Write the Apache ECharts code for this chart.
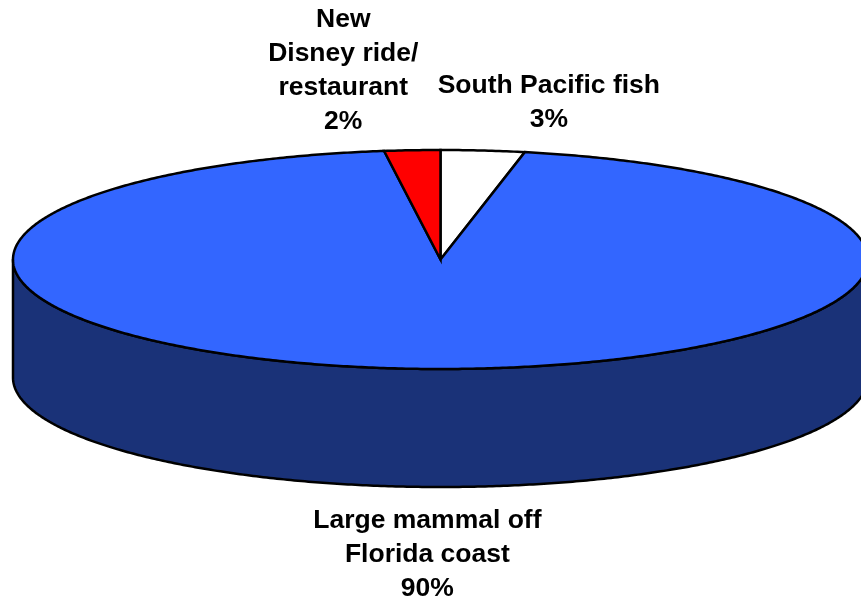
<!DOCTYPE html>
<html><head><meta charset="utf-8">
<script src="https://cdn.jsdelivr.net/npm/echarts/dist/echarts.min.js"></script>
<style>html,body{margin:0;padding:0;background:#fff}#c{width:861px;height:604px}</style>
</head><body><div id="c"></div>
<script>
// ---- data ----
const categories = ['South Pacific fish', 'Large mammal off\nFlorida coast', 'New\nDisney ride/\nrestaurant'];
const values = [3, 90, 2];
const valueLabels = ['3%', '90%', '2%'];

// ---- style / layout ----
const topColors = ['#ffffff', '#3366ff', '#ff0000'];
const sideColors = ['#c0c0c0', '#1a3278', '#800000'];
const layout = { cx: 440.5, cy: 259.5, rx: 427.5, ry: 109.5, depth: 118 };
// label offsets relative to slice mid-point on the rim (style only)
const labelOffsets = [[66, -48], [1, 68], [-69, -80]];
const font = 'bold 26.5px "Liberation Sans", Arial, sans-serif';

const DEG = Math.PI / 180;
function sliceAngles(i) {
  const total = values.reduce((a, b) => a + b, 0);
  let acc = 0;
  for (let k = 0; k < i; k++) acc += values[k];
  return [acc / total * 360, (acc + values[i]) / total * 360];
}
function pt(t, dy) {
  return [layout.cx + layout.rx * Math.sin(t * DEG), layout.cy - layout.ry * Math.cos(t * DEG) + (dy || 0)];
}
function arc(a, b, dy) {
  const pts = [];
  const n = Math.max(2, Math.ceil(Math.abs(b - a) / 0.5));
  for (let k = 0; k <= n; k++) pts.push(pt(a + (b - a) * k / n, dy));
  return pts;
}

function renderSide(params, api) {
  const i = params.dataIndex;
  const [t0, t1] = sliceAngles(i);
  const a = Math.max(t0, 90), b = Math.min(t1, 270);
  if (b <= a) return { type: 'group', children: [] };
  const pts = arc(a, b, 0).concat(arc(b, a, layout.depth));
  return {
    type: 'polygon',
    shape: { points: pts },
    style: { fill: sideColors[i], stroke: '#000', lineWidth: 2.5, lineJoin: 'round' }
  };
}

function renderTop(params, api) {
  const i = params.dataIndex;
  const [t0, t1] = sliceAngles(i);
  const pts = [[layout.cx, layout.cy]].concat(arc(t0, t1, 0));
  const mid = (t0 + t1) / 2;
  const front = Math.cos(mid * DEG) < 0;
  const anchor = pt(mid, front ? layout.depth : 0);
  return {
    type: 'group',
    children: [
      {
        type: 'polygon',
        shape: { points: pts },
        style: { fill: topColors[i], stroke: '#000', lineWidth: 2.5, lineJoin: 'miter' }
      },
      {
        type: 'text',
        z2: 10,
        style: {
          text: categories[i] + '\n' + valueLabels[i],
          x: anchor[0] + labelOffsets[i][0],
          y: anchor[1] + labelOffsets[i][1],
          font: font,
          fill: '#000',
          align: 'center',
          verticalAlign: 'middle',
          lineHeight: 34
        }
      }
    ]
  };
}

const chart = echarts.init(document.getElementById('c'), null, { renderer: 'canvas' });
chart.setOption({
  animation: false,
  backgroundColor: '#ffffff',
  series: [
    { type: 'custom', coordinateSystem: 'none', z: 1, silent: true,
      data: values.map(v => [v]), renderItem: renderSide },
    { type: 'custom', coordinateSystem: 'none', z: 2, silent: true,
      data: values.map(v => [v]), renderItem: renderTop }
  ]
});
</script>
</body></html>
